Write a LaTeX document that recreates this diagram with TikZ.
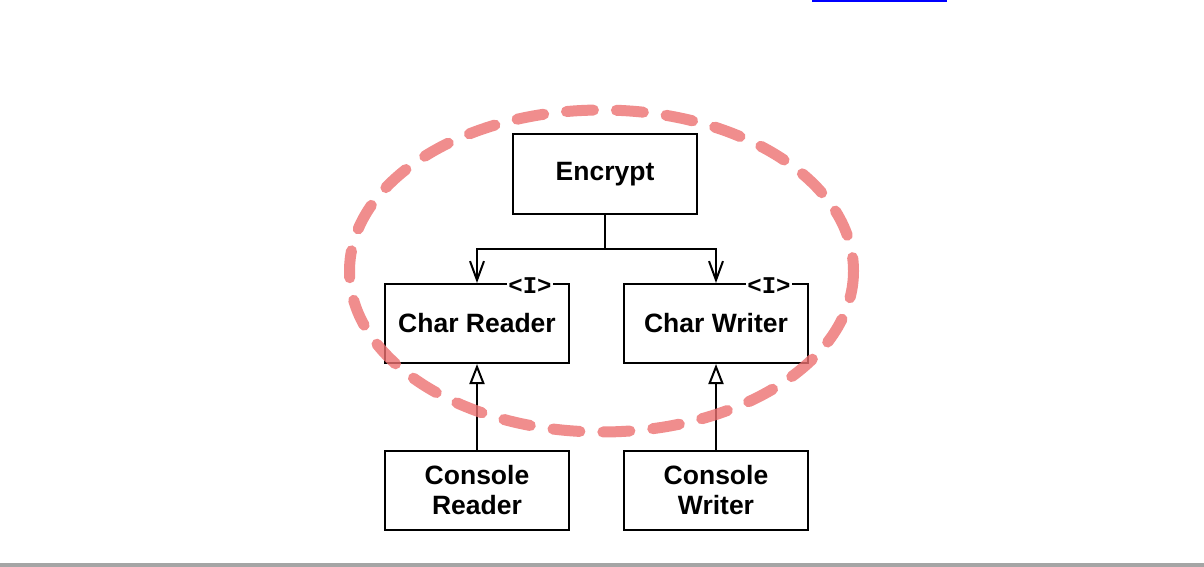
\documentclass[tikz,border=0pt]{standalone}
\usepackage{fontspec}
\setmainfont{Liberation Sans}
\newfontfamily\umlmono{Liberation Mono}
\usetikzlibrary{arrows.meta}
\definecolor{hl}{RGB}{236,112,112}
\definecolor{barg}{RGB}{165,165,165}
\tikzset{
  cls/.style={draw=black, line width=2pt, fill=white, minimum width=184pt, minimum height=79pt,
    inner sep=0pt, align=center, font=\bfseries\fontsize{26.5}{30}\selectfont},
  iface/.style={fill=white, inner sep=1pt, font=\umlmono\bfseries\fontsize{24}{24}\selectfont},
  dep/.style={line width=2pt, -{Straight Barb[length=19pt,width=14pt,line width=2pt]}},
  inh/.style={line width=2pt, -{Triangle[open,length=20pt,width=15pt,line width=2pt,fill=white]}},
  ring/.style={draw=hl, draw opacity=0.8, line width=11pt, line cap=round, dash pattern=on 27pt off 23pt}
}
\begin{document}
\begin{tikzpicture}[x=1pt,y=-1pt]
\useasboundingbox (0,0) rectangle (1204,567);
\fill[blue] (812,0) rectangle (947,2.5);
\fill[barg] (0,563) rectangle (1204,567);

\node[cls] (enc) at (605,174) {Encrypt};
\node[cls] (cr) at (477,323.5) {Char Reader};
\node[cls] (cw) at (716,323.5) {Char Writer};
\node[cls] (conr) at (477,490.5) {Console\\Reader};
\node[cls] (conw) at (716,490.5) {Console\\Writer};

\node[iface] (icr) at (530,286) {<I>};
\node[iface] (icw) at (769,286) {<I>};

\coordinate (j) at (605,249);
\draw[line width=2pt] (enc.south) -- (j);
\draw[dep] (j) -| (cr.north);
\draw[dep] (j) -| (cw.north);

\draw[inh] (conr.north) -- (cr.south);
\draw[inh] (conw.north) -- (cw.south);

\draw[ring] (601.5,271) ellipse [x radius=252, y radius=161];
\end{tikzpicture}
\end{document}
